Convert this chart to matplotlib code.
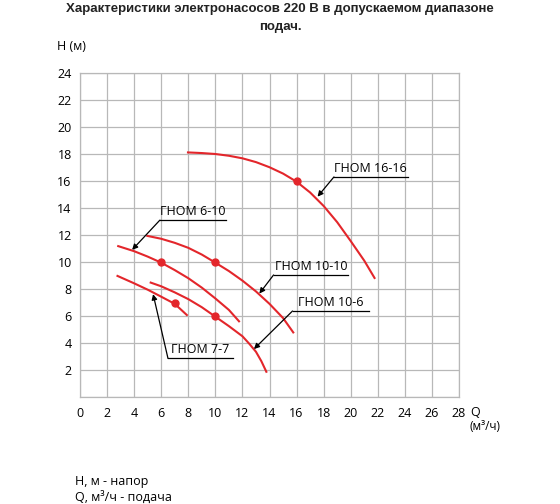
import matplotlib
matplotlib.use("Agg")
import matplotlib.pyplot as plt

# pump curves, Q (m3/h) vs H (m)
q_16_16 = [7.9, 9, 10, 11, 12, 13, 14, 15, 16, 17, 18, 19, 20, 21, 21.8]
h_16_16 = [18.12, 18.07, 18.0, 17.87, 17.68, 17.4, 17.02, 16.55, 15.95, 15.15, 14.15,
           12.95, 11.55, 10.1, 8.75]

q_10_10 = [4.9, 6, 7, 8, 9, 10, 11, 12, 13, 14, 15, 15.8]
h_10_10 = [11.95, 11.72, 11.42, 11.05, 10.55, 9.95, 9.33, 8.62, 7.82, 6.9, 5.85, 4.72]

q_6_10 = [2.75, 4, 5, 6, 7, 8, 9, 10, 11, 11.8]
h_6_10 = [11.2, 10.8, 10.4, 9.95, 9.4, 8.8, 8.1, 7.3, 6.45, 5.55]

q_10_6 = [5.15, 6, 7, 8, 9, 10, 11, 12, 12.5, 13, 13.4, 13.8]
h_10_6 = [8.5, 8.2, 7.75, 7.25, 6.65, 5.95, 5.25, 4.5, 3.95, 3.35, 2.65, 1.8]

q_7_7 = [2.7, 4, 5, 6, 7, 7.95]
h_7_7 = [9.0, 8.42, 7.95, 7.43, 6.9, 6.02]

# nominal points
pt_q = [16, 10, 6, 10, 7]
pt_h = [16, 10, 10, 6, 7]

# callout labels: text, underline x range, underline y, arrow tip
lbl_text = ["ГНОМ 16-16", "ГНОМ 6-10", "ГНОМ 10-10", "ГНОМ 10-6", "ГНОМ 7-7"]
lbl_x0 = [18.76, 5.9, 14.3, 15.7, 6.5]
lbl_x1 = [24.2, 10.8, 19.8, 21.35, 11.3]
lbl_y = [16.3, 13.1, 9.04, 6.37, 2.86]
tip_x = [17.55, 3.85, 13.25, 12.85, 5.4]
tip_y = [14.84, 10.9, 7.66, 3.55, 7.62]

red = "#e3262b"
grid_c = "#b8b8b8"

plt.rcParams["font.family"] = ["Open Sans", "DejaVu Sans"]

fig = plt.figure(figsize=(5.6, 5.04), dpi=100)
ax = fig.add_axes([80 / 560, 1 - 397 / 504, 379 / 560, 324 / 504])

for q, h in [(q_16_16, h_16_16), (q_10_10, h_10_10), (q_6_10, h_6_10),
             (q_10_6, h_10_6), (q_7_7, h_7_7)]:
    ax.plot(q, h, color=red, lw=1.5, solid_capstyle="butt",
            solid_joinstyle="round", zorder=3)
ax.plot(pt_q, pt_h, "o", color=red, ms=5, zorder=4)

for t, x0, x1, y, tx, ty in zip(lbl_text, lbl_x0, lbl_x1, lbl_y, tip_x, tip_y):
    ax.plot([x0, x1], [y, y], color="black", lw=0.9, zorder=3)
    ax.text((x0 + x1) / 2, y + 0.15, t, ha="center", va="bottom", fontsize=9)
    ax.annotate("", xy=(tx, ty), xytext=(x0, y),
                arrowprops=dict(arrowstyle="-|>", color="black", lw=0.9,
                                mutation_scale=8, shrinkA=0, shrinkB=0),
                zorder=3)

ax.set_xlim(0, 28)
ax.set_ylim(0, 24)
ax.set_xticks(range(0, 29, 2))
ax.set_yticks(range(0, 25, 2))
ax.set_yticklabels([""] + [str(v) for v in range(2, 25, 2)])
ax.tick_params(length=0, labelsize=9)
ax.tick_params(axis="x", pad=7)
ax.tick_params(axis="y", pad=6)
ax.grid(True, color=grid_c, lw=0.9)
ax.set_axisbelow(True)
for s in ax.spines.values():
    s.set_color(grid_c)
    s.set_linewidth(0.9)

fig.text(0.5, 1 - 9 / 504, "Характеристики электронасосов 220 В в допускаемом диапазоне",
         ha="center", va="center", fontsize=9.5, fontweight="bold",
         family=["Liberation Sans", "DejaVu Sans"], color="#222222")
fig.text(0.5, 1 - 27 / 504, "подач.", ha="center", va="center", fontsize=9.5,
         fontweight="bold", family=["Liberation Sans", "DejaVu Sans"], color="#222222")

fig.text(57 / 560, 1 - 47 / 504, "H (м)", ha="left", va="center", fontsize=9)
fig.text(470 / 560, 1 - 412 / 504, "Q", ha="left", va="center", fontsize=9)
fig.text(470 / 560, 1 - 426 / 504, "(м³/ч)", ha="left", va="center", fontsize=8.5)
fig.text(75 / 560, 1 - 481 / 504, "H, м - напор", ha="left", va="center", fontsize=9)
fig.text(75 / 560, 1 - 497 / 504, "Q, м³/ч - подача", ha="left", va="center", fontsize=9)

fig.savefig("out.png", dpi=100)
